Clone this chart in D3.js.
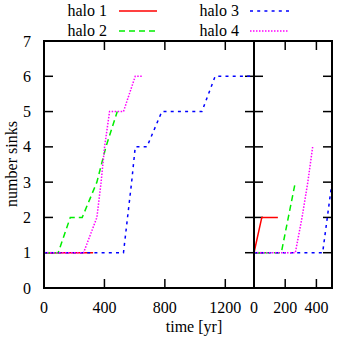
<!DOCTYPE html>
<html><head><meta charset="utf-8">
<script src="https://cdn.jsdelivr.net/npm/d3@7"></script>
<style>
html,body{margin:0;padding:0;background:#fff;}
svg text{font-family:'Liberation Serif','Times New Roman',Times,'DejaVu Serif',serif;font-size:16px;fill:#000;}
</style></head>
<body><svg id="c" width="338" height="338" font-family="'Liberation Serif','Times New Roman',Times,'DejaVu Serif',serif"></svg>
<script>
// ---- data ----
const seriesNames = ["halo 1","halo 2","halo 3","halo 4"];
const seriesColors = ["#ff0000","#00ee00","#0000ff","#ff00ff"];
const seriesDash = [null,"6,4","3,4.2","1.5,1.5"];
// left panel (time [yr], number sinks)
const leftHalo1 = [[0,1],[325,1]];
const leftHalo2 = [[0,1],[94,1],[174,2],[253,2],[350,3],[410,4],[485,5]];
const leftHalo3 = [[0,1],[526,1],[580,3],[604,4],[681,4],[780,5],[1045,5],[1133,6],[1390,6]];
const leftHalo4 = [[0,1],[262,1],[350,2],[378,3],[401,4],[434,5],[526,5],[604,6],[648,6]];
// right panel
const rightHalo1 = [[0,1],[50,2],[153,2]];
const rightHalo2 = [[0,1],[175,1],[220,2],[265,3]];
const rightHalo3 = [[0,1],[440,1],[470,2],[500,3]];
const rightHalo4 = [[0,1],[265,1],[308,2],[345,3],[376,4]];
const leftXTicks = [0,400,800,1200];
const rightXTicks = [0,200,400];
const yTicks = [0,1,2,3,4,5,6,7];

const FONT = "'Liberation Serif','Times New Roman',Times,'DejaVu Serif',serif";
const svg = d3.select("#c");
const y = d3.scaleLinear().domain([0,7]).range([288,41]);
const xL = d3.scaleLinear().domain([0,1390]).range([44,254]);
const xR = d3.scaleLinear().domain([0,500]).range([254,332]);

function txt(sel){ return sel.append("text").attr("font-family",FONT).attr("font-size",16); }

const defs = svg.append("defs");
defs.append("clipPath").attr("id","clipL").append("rect")
  .attr("x",xL.range()[0]).attr("y",y(7)).attr("width",xL.range()[1]-xL.range()[0]).attr("height",y(0)-y(7));
defs.append("clipPath").attr("id","clipR").append("rect")
  .attr("x",xR.range()[0]).attr("y",y(7)).attr("width",xR.range()[1]-xR.range()[0]).attr("height",y(0)-y(7));

function drawPanel(x, data, clip, ticks, yLabels){
  const g = svg.append("g");
  const tl = 9;
  ticks.forEach(t=>{
    g.append("line").attr("x1",x(t)).attr("x2",x(t)).attr("y1",y(0)).attr("y2",y(0)-tl).attr("stroke","#000").attr("stroke-width",1.5);
    g.append("line").attr("x1",x(t)).attr("x2",x(t)).attr("y1",y(7)).attr("y2",y(7)+tl).attr("stroke","#000").attr("stroke-width",1.5);
    txt(g).attr("x",x(t)).attr("y",313).attr("text-anchor","middle").text(t);
  });
  yTicks.forEach(v=>{
    g.append("line").attr("x1",x.range()[0]).attr("x2",x.range()[0]+tl).attr("y1",y(v)).attr("y2",y(v)).attr("stroke","#000").attr("stroke-width",1.5);
    g.append("line").attr("x1",x.range()[1]).attr("x2",x.range()[1]-tl).attr("y1",y(v)).attr("y2",y(v)).attr("stroke","#000").attr("stroke-width",1.5);
    if(yLabels) txt(g).attr("x",31).attr("y",y(v)).attr("dy","0.35em").attr("text-anchor","end").text(v);
  });
  const line = d3.line().x(d=>x(d[0])).y(d=>y(d[1]));
  const lg = g.append("g").attr("clip-path",`url(#${clip})`);
  data.forEach((d,i)=>{
    lg.append("path").attr("d",line(d)).attr("fill","none")
      .attr("stroke",seriesColors[i]).attr("stroke-width",1.5)
      .attr("stroke-dasharray",seriesDash[i]);
  });
  g.append("rect").attr("x",x.range()[0]).attr("y",y(7)).attr("width",x.range()[1]-x.range()[0]).attr("height",y(0)-y(7))
    .attr("fill","none").attr("stroke","#000").attr("stroke-width",2);
}
drawPanel(xL,[leftHalo1,leftHalo2,leftHalo3,leftHalo4],"clipL",leftXTicks,true);
drawPanel(xR,[rightHalo1,rightHalo2,rightHalo3,rightHalo4],"clipR",rightXTicks,false);

txt(svg).attr("x",194).attr("y",332).attr("text-anchor","middle").text("time [yr]");
txt(svg).attr("transform","translate(17,164) rotate(-90)").attr("text-anchor","middle").text("number sinks");

const legPos = [[107,16,119,157,11],[107,36,119,157,31],[239,16,250,289,11],[239,36,250,289,31]];
seriesNames.forEach((n,i)=>{
  const p = legPos[i];
  txt(svg).attr("x",p[0]).attr("y",p[1]).attr("text-anchor","end").text(n);
  svg.append("line").attr("x1",p[2]).attr("x2",p[3]).attr("y1",p[4]).attr("y2",p[4])
    .attr("stroke",seriesColors[i]).attr("stroke-width",1.5).attr("stroke-dasharray",seriesDash[i]);
});
</script></body></html>
